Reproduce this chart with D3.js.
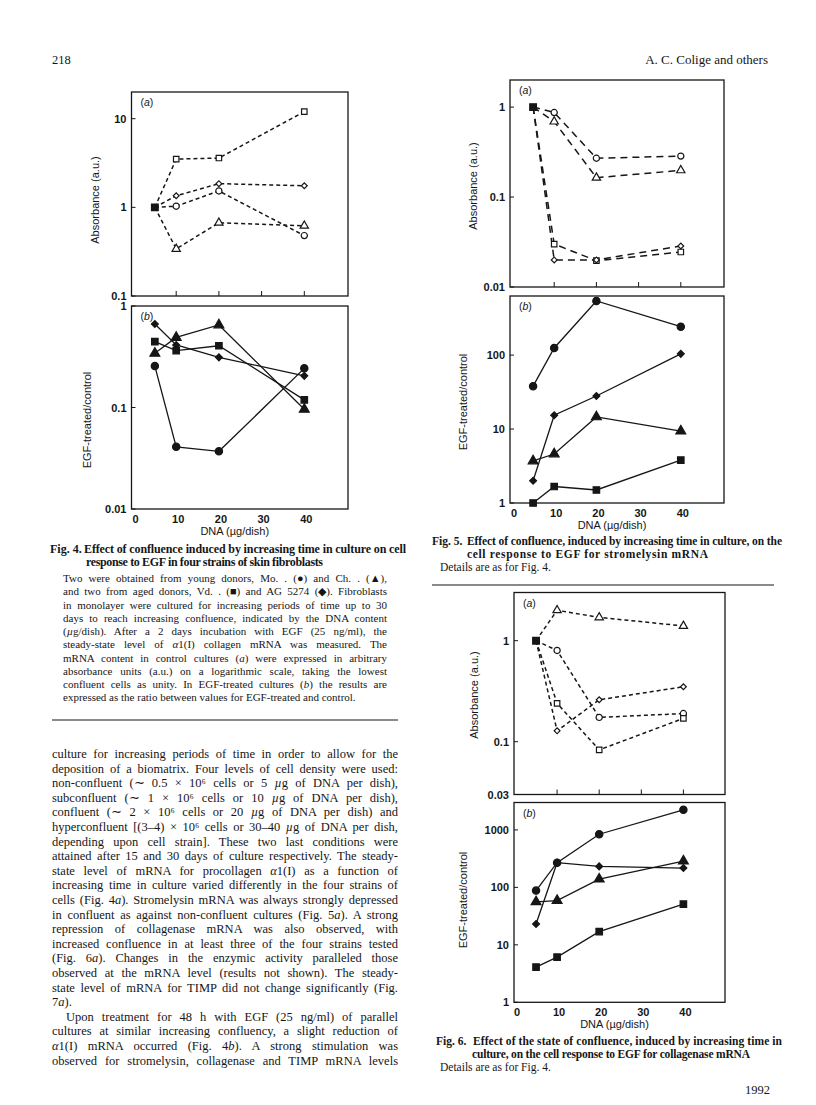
<!DOCTYPE html>
<html><head><meta charset="utf-8">
<script src="https://cdn.jsdelivr.net/npm/d3@7"></script>
<style>body{margin:0;background:#fff} svg{display:block}</style>
</head><body>
<svg id="page" width="816" height="1105"></svg>
<script>
// ---------------- DATA ----------------
const dna = [5, 10, 20, 40];               // µg DNA per dish
const xTickVals = [0, 10, 20, 30, 40];

// Fig. 4 – α1(I) collagen mRNA
const fig4aSquare   = [1, 3.5, 3.6, 12];
const fig4aDiamond  = [1, 1.35, 1.85, 1.75];
const fig4aCircle   = [1, 1.03, 1.53, 0.48];
const fig4aTriangle = [1, 0.34, 0.67, 0.62];
const fig4bDiamond  = [0.665, 0.413, 0.312, 0.205];
const fig4bSquare   = [0.445, 0.363, 0.406, 0.119];
const fig4bTriangle = [0.342, 0.49, 0.65, 0.096];
const fig4bCircle   = [0.256, 0.041, 0.037, 0.243];
const fig4aTicks = [0.1, 1, 10];
const fig4bTicks = [0.01, 0.1, 1];

// Fig. 5 – stromelysin mRNA
const fig5aCircle   = [1, 0.87, 0.27, 0.285];
const fig5aTriangle = [1, 0.69, 0.164, 0.198];
const fig5aSquare   = [1, 0.030, 0.0196, 0.0245];
const fig5aDiamond  = [1, 0.020, 0.020, 0.0286];
const fig5bCircle   = [38, 125, 540, 242];
const fig5bDiamond  = [2, 15.4, 28, 104];
const fig5bTriangle = [3.7, 4.6, 14.6, 9.4];
const fig5bSquare   = [1, 1.67, 1.5, 3.8];
const fig5aTicks = [0.01, 0.1, 1];
const fig5bTicks = [1, 10, 100];

// Fig. 6 – collagenase mRNA
const fig6aTriangle = [1, 2.0, 1.7, 1.4];
const fig6aCircle   = [1, 0.8, 0.174, 0.19];
const fig6aDiamond  = [1, 0.128, 0.26, 0.35];
const fig6aSquare   = [1, 0.24, 0.083, 0.17];
const fig6bCircle   = [88, 269, 841, 2239];
const fig6bTriangle = [56, 59, 139, 287];
const fig6bDiamond  = [23, 269, 232, 217];
const fig6bSquare   = [4.1, 6.1, 17, 51];
const fig6aTicks = [0.03, 0.1, 1];
const fig6bTicks = [1, 10, 100, 1000];

// ---------------- TEXT ----------------
const headerLeft = "218";
const headerRight = "A. C. Colige and others";
const fig4Title = ["Effect of confluence induced by increasing time in culture on cell",
                   "response to EGF in four strains of skin fibroblasts"];
const fig4Legend = [
 "Two were obtained from young donors, Mo. . (\u25CF) and Ch. . (\u25B2),",
 "and two from aged donors, Vd. . (\u25A0) and AG 5274 (\u25C6). Fibroblasts",
 "in monolayer were cultured for increasing periods of time up to 30",
 "days to reach increasing confluence, indicated by the DNA content",
 "(_\u00B5_g/dish). After a 2 days incubation with EGF (25 ng/ml), the",
 "steady-state level of _\u03B1_1(I) collagen mRNA was measured. The",
 "mRNA content in control cultures (_a_) were expressed in arbitrary",
 "absorbance units (a.u.) on a logarithmic scale, taking the lowest",
 "confluent cells as unity. In EGF-treated cultures (_b_) the results are",
 "expressed as the ratio between values for EGF-treated and control."];
const bodyText = [
 "culture for increasing periods of time in order to allow for the",
 "deposition of a biomatrix. Four levels of cell density were used:",
 "non-confluent (\u223C 0.5 \u00D7 10\u2076 cells or 5 _\u00B5_g of DNA per dish),",
 "subconfluent (\u223C 1 \u00D7 10\u2076 cells or 10 _\u00B5_g of DNA per dish),",
 "confluent (\u223C 2 \u00D7 10\u2076 cells or 20 _\u00B5_g of DNA per dish) and",
 "hyperconfluent [(3\u20134) \u00D7 10\u2076 cells or 30\u201340 _\u00B5_g of DNA per dish,",
 "depending upon cell strain]. These two last conditions were",
 "attained after 15 and 30 days of culture respectively. The steady-",
 "state level of mRNA for procollagen _\u03B1_1(I) as a function of",
 "increasing time in culture varied differently in the four strains of",
 "cells (Fig. 4_a_). Stromelysin mRNA was always strongly depressed",
 "in confluent as against non-confluent cultures (Fig. 5_a_). A strong",
 "repression of collagenase mRNA was also observed, with",
 "increased confluence in at least three of the four strains tested",
 "(Fig. 6_a_). Changes in the enzymic activity paralleled those",
 "observed at the mRNA level (results not shown). The steady-",
 "state level of mRNA for TIMP did not change significantly (Fig.",
 "7_a_).",
 "Upon treatment for 48 h with EGF (25 ng/ml) of parallel",
 "cultures at similar increasing confluency, a slight reduction of",
 "_\u03B1_1(I) mRNA occurred (Fig. 4_b_). A strong stimulation was",
 "observed for stromelysin, collagenase and TIMP mRNA levels"];
const fig5Title = ["Effect of confluence, induced by increasing time in culture, on the",
                   "cell response to EGF for stromelysin mRNA"];
const fig6Title = ["Effect of the state of confluence, induced by increasing time in",
                   "culture, on the cell response to EGF for collagenase mRNA"];
const detailsText = "Details are as for Fig. 4.";
const pageFoot = "1992";

// ---------------- DRAWING ----------------
const INK = "#161616";
const svg = d3.select("#page");

function textLine(x, y, s, opt) {
  const t = svg.append("text").attr("x", x).attr("y", y)
    .attr("font-family", opt.family || "'Liberation Serif', serif")
    .attr("font-size", opt.size).attr("font-weight", opt.weight || "normal")
    .attr("fill", INK);
  if (opt.anchor) t.attr("text-anchor", opt.anchor);
  s.split("_").forEach((p, i) => {
    if (!p.length) return;
    const sp = t.append("tspan").text(p);
    if (i % 2 === 1) sp.attr("font-style", "italic");
  });
  if (opt.width) {
    const len = t.node().getComputedTextLength();
    const spaces = (s.match(/ /g) || []).length;
    if (spaces) t.attr("word-spacing", (opt.width - len) / spaces);
  }
  if (opt.fit) {
    t.attr("textLength", opt.fit).attr("lengthAdjust", "spacing");
  }
  return t;
}

const SANS = "'Liberation Sans', Arial, sans-serif";

function marker(g, shape, cx, cy, filled, scale) {
  const k = scale || 1;
  let type, size, rot = 0;
  if (shape === "circle") { type = d3.symbolCircle; size = 30 * k; }
  else if (shape === "square") { type = d3.symbolSquare; size = 30 * k; }
  else if (shape === "triangle") { type = d3.symbolTriangle; size = 30 * k; }
  else { type = d3.symbolSquare; size = 17 * k; rot = 45; }
  g.append("path").attr("d", d3.symbol().type(type).size(size)())
    .attr("transform", `translate(${cx},${cy}) rotate(${rot})`)
    .attr("fill", filled ? INK : "#fff").attr("stroke", INK).attr("stroke-width", 1.2);
}

function panel(o) {
  const g = svg.append("g");
  const x = d3.scaleLinear().domain([0, 50]).range([o.xr0, o.xr1]);
  const y = d3.scaleLog().domain(o.yDomain).range([o.bottom, o.top]);
  g.append("rect").attr("x", o.left).attr("y", o.top)
    .attr("width", o.right - o.left).attr("height", o.bottom - o.top)
    .attr("fill", "none").attr("stroke", INK).attr("stroke-width", 1.3);
  // y ticks
  o.yTicks.forEach(v => {
    g.append("line").attr("x1", o.left).attr("x2", o.left + 4)
      .attr("y1", y(v)).attr("y2", y(v)).attr("stroke", INK).attr("stroke-width", 1);
    g.append("text").attr("x", o.left - 5).attr("y", y(v) + 4)
      .attr("text-anchor", "end").attr("font-family", SANS).attr("font-size", 11)
      .attr("font-weight", "bold").attr("fill", INK).text(d3.format("~g")(v));
  });
  // x ticks
  if (o.innerXTicks) {
    xTickVals.slice(1).forEach(v => {
      g.append("line").attr("x1", x(v)).attr("x2", x(v))
        .attr("y1", o.bottom).attr("y2", o.bottom - 5).attr("stroke", INK).attr("stroke-width", 1);
    });
  }
  if (o.xLabels) {
    xTickVals.forEach(v => {
      g.append("text").attr("x", x(v) + 2).attr("y", o.bottom + 13.5)
        .attr("text-anchor", "middle").attr("font-family", SANS).attr("font-size", 11)
        .attr("font-weight", "bold").attr("fill", INK).text(v);
    });
    g.append("text").attr("x", (o.left + o.right) / 2 - 5).attr("y", o.bottom + 26)
      .attr("text-anchor", "middle").attr("font-family", SANS).attr("font-size", 11)
      .attr("fill", INK).text("DNA (\u00B5g/dish)");
  }
  // y label
  g.append("text").attr("transform", `translate(${o.left - o.yLabOff},${o.yLabY}) rotate(-90)`)
    .attr("text-anchor", "middle").attr("font-family", SANS).attr("font-size", 11)
    .attr("fill", INK).text(o.yLabel);
  // panel letter
  const pl = g.append("text").attr("x", o.left + 9).attr("y", o.top + 14)
    .attr("font-family", SANS).attr("font-size", 10.5).attr("fill", INK);
  pl.append("tspan").text("(");
  pl.append("tspan").attr("font-style", "italic").text(o.letter);
  pl.append("tspan").text(")");
  // series
  const line = d3.line().x((d, i) => x(dna[i])).y(d => y(d));
  o.series.forEach(s => {
    g.append("path").attr("d", line(s.values)).attr("fill", "none")
      .attr("stroke", INK).attr("stroke-width", o.dashed ? 1.5 : 1.3)
      .attr("stroke-dasharray", o.dashed ? o.dash : null);
  });
  o.series.forEach(s => {
    s.values.forEach((v, i) => {
      if (o.dashed && i === 0) return;
      marker(g, s.shape, x(dna[i]), y(v), !o.dashed, o.dashed ? 1 : 1.4);
    });
  });
  if (o.dashed) {
    const v0 = o.series[0].values[0];
    marker(g, "square", x(dna[0]), y(v0), true, 1.5);
  }
}

// ---- Fig. 4 ----
panel({left: 131.5, right: 348, top: 92, bottom: 296, xr0: 133.5, xr1: 347,
  yDomain: [0.1, 20], yTicks: fig4aTicks, yLabel: "Absorbance (a.u.)", yLabOff: 33, yLabY: 200,
  letter: "a", dashed: true, dash: "4,3", innerXTicks: true,
  series: [{values: fig4aSquare, shape: "square"}, {values: fig4aDiamond, shape: "diamond"},
           {values: fig4aCircle, shape: "circle"}, {values: fig4aTriangle, shape: "triangle"}]});
panel({left: 131.5, right: 348, top: 306, bottom: 509, xr0: 133.5, xr1: 347,
  yDomain: [0.01, 1], yTicks: fig4bTicks, yLabel: "EGF-treated/control", yLabOff: 41, yLabY: 420,
  letter: "b", dashed: false, xLabels: true,
  series: [{values: fig4bDiamond, shape: "diamond"}, {values: fig4bSquare, shape: "square"},
           {values: fig4bTriangle, shape: "triangle"}, {values: fig4bCircle, shape: "circle"}]});

// ---- Fig. 5 ----
panel({left: 510, right: 724, top: 80, bottom: 287, xr0: 512, xr1: 723,
  yDomain: [0.01, 2], yTicks: fig5aTicks, yLabel: "Absorbance (a.u.)", yLabOff: 33, yLabY: 186,
  letter: "a", dashed: true, dash: "7,5", innerXTicks: true,
  series: [{values: fig5aCircle, shape: "circle"}, {values: fig5aTriangle, shape: "triangle"},
           {values: fig5aSquare, shape: "square"}, {values: fig5aDiamond, shape: "diamond"}]});
panel({left: 510, right: 724, top: 296, bottom: 503, xr0: 512, xr1: 723,
  yDomain: [1, 630], yTicks: fig5bTicks, yLabel: "EGF-treated/control", yLabOff: 43, yLabY: 402,
  letter: "b", dashed: false, xLabels: true,
  series: [{values: fig5bCircle, shape: "circle"}, {values: fig5bDiamond, shape: "diamond"},
           {values: fig5bTriangle, shape: "triangle"}, {values: fig5bSquare, shape: "square"}]});

// ---- Fig. 6 ----
panel({left: 514, right: 725, top: 592.5, bottom: 794.5, xr0: 515, xr1: 725.5,
  yDomain: [0.03, 3], yTicks: fig6aTicks, yLabel: "Absorbance (a.u.)", yLabOff: 36, yLabY: 695,
  letter: "a", dashed: true, dash: "4,3", innerXTicks: true,
  series: [{values: fig6aTriangle, shape: "triangle"}, {values: fig6aCircle, shape: "circle"},
           {values: fig6aDiamond, shape: "diamond"}, {values: fig6aSquare, shape: "square"}]});
panel({left: 514, right: 725, top: 802.5, bottom: 1002.3, xr0: 515, xr1: 725.5,
  yDomain: [1, 3000], yTicks: fig6bTicks, yLabel: "EGF-treated/control", yLabOff: 47, yLabY: 900,
  letter: "b", dashed: false, xLabels: true,
  series: [{values: fig6bCircle, shape: "circle"}, {values: fig6bTriangle, shape: "triangle"},
           {values: fig6bDiamond, shape: "diamond"}, {values: fig6bSquare, shape: "square"}]});

// ---- page text ----
textLine(52, 64, headerLeft, {size: 12.5});
textLine(768, 64, headerRight, {size: 13, anchor: "end"});

// Fig. 4 caption
textLine(50, 552.5, "Fig. 4.", {size: 12, weight: "bold"});
textLine(84, 552.5, fig4Title[0], {size: 12, weight: "bold", fit: 322});
textLine(86, 565.5, fig4Title[1], {size: 12, weight: "bold", fit: 237});
fig4Legend.forEach((s, i) => {
  const last = i === fig4Legend.length - 1;
  textLine(63, 582 + i * 13.25, s, {size: 11, width: last ? null : 324});
});
svg.append("line").attr("x1", 52).attr("x2", 398).attr("y1", 720).attr("y2", 720)
  .attr("stroke", INK).attr("stroke-width", 1.2);

// body text
bodyText.forEach((s, i) => {
  const isLast = i === 17;
  const indent = i === 18 ? 14 : 0;
  textLine(52 + indent, 758 + i * 14.6, s, {size: 12.5, width: isLast ? null : 346 - indent});
});

// Fig. 5 caption
textLine(432, 545, "Fig. 5.", {size: 11.5, weight: "bold"});
textLine(467, 545, fig5Title[0], {size: 11.5, weight: "bold", fit: 315});
textLine(467, 558, fig5Title[1], {size: 11.5, weight: "bold", fit: 241});
textLine(440, 571, detailsText, {size: 11.5});
svg.append("line").attr("x1", 432).attr("x2", 774).attr("y1", 585).attr("y2", 585)
  .attr("stroke", INK).attr("stroke-width", 1.2);

// Fig. 6 caption
textLine(436, 1045, "Fig. 6.", {size: 11.5, weight: "bold"});
textLine(473, 1045, fig6Title[0], {size: 11.5, weight: "bold", fit: 309});
textLine(472, 1058, fig6Title[1], {size: 11.5, weight: "bold", fit: 278});
textLine(440, 1071, detailsText, {size: 11.5});
textLine(770, 1094, pageFoot, {size: 12.5, anchor: "end"});
</script>
</body></html>
